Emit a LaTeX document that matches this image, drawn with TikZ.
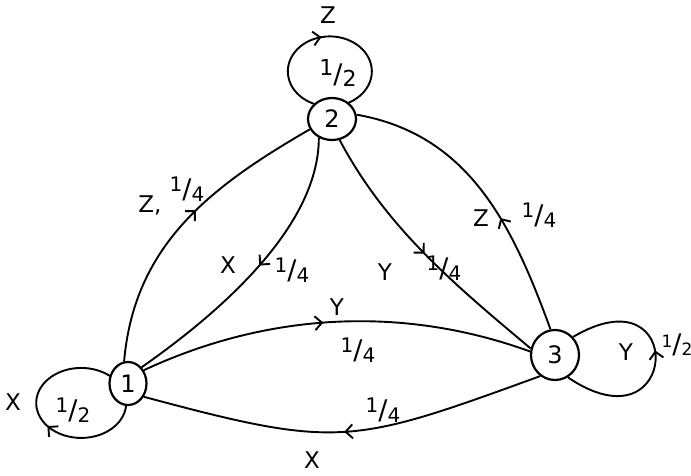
\documentclass[tikz,border=0pt]{standalone}
\usepackage{fontspec}
\setmainfont{DejaVu Sans}
\usetikzlibrary{arrows.meta,decorations.markings,shapes.geometric,backgrounds}
\newcommand{\myfr}[2]{\raisebox{0.5ex}{#1}\raisebox{-0.15ex}{\fontsize{27}{27}\selectfont/}\raisebox{-0.4ex}{#2}}
\begin{document}
\begin{tikzpicture}[x=1pt,y=1pt,
  every node/.style={font=\fontsize{23}{25}\selectfont},
  state/.style={ellipse, draw, line width=2.2pt, fill=white, inner sep=0pt, font=\fontsize{24}{26}\selectfont},
  conn/.style={line width=1.9pt},
  frac/.style={font=\fontsize{20}{22}\selectfont, inner sep=0pt},
  sym/.style={inner sep=1pt},
  midarrow/.style={postaction={decorate,decoration={markings,mark=at position #1 with {\arrow{Straight Barb[length=7pt,width=14pt,line width=1.9pt]}}}}}
]
\useasboundingbox (0,0) rectangle (691,475);
\node[state, minimum width=48pt, minimum height=42pt] (n2) at (332,356) {2};
\node[state, minimum width=37pt, minimum height=43pt] (n1) at (128,91.5) {1};
\node[state, minimum width=48pt, minimum height=50pt] (n3) at (555,120) {3};

\begin{scope}[on background layer]
% self loops
\draw[conn, midarrow=0.46] (n2.140) arc[start angle=247.6, end angle=-67.6, x radius=42, y radius=35];
\draw[conn, midarrow=0.44] (n1.265) arc[start angle=-5, end angle=-314, x radius=45, y radius=35];
\draw[conn, midarrow=0.55] (n3.-60) .. controls +(112,-76) and +(115,68) .. (n3.45);
% edges between states
\draw[conn, midarrow=0.55] (n1.100) to[out=85,in=210] (n2.205);
\draw[conn, midarrow=0.48] (n2.-125) to[out=-90,in=35,looseness=0.8] (n1.50);
\draw[conn, midarrow=0.5] (n2.-70) to[out=-62,in=140,looseness=0.9] (n3.165);
\draw[conn, midarrow=0.4] (n3.100) to[out=110,in=-10] (n2.10);
\draw[conn, midarrow=0.47] (n1.40) to[out=25,in=160,looseness=0.9] (n3.172);
\draw[conn, midarrow=0.5] (n3.235) to[out=200,in=-15,looseness=1.3] (n1.-40);
\end{scope}

% loop labels
\node[sym] (l2s) at (328,460) {Z};
\node[frac, font=\fontsize{22}{24}\selectfont] (l2p) at (338,402) {\myfr{1}{2}};
\node[sym] (l1s) at (13,73) {X};
\node[frac] (l1p) at (73,65) {\myfr{1}{2}};
\node[sym] (l3s) at (626,123) {Y};
\node[frac, font=\fontsize{17}{19}\selectfont] (l3p) at (677,130) {\myfr{1}{2}};
% edge labels
\node[sym] (las) at (150,270) {Z,};
\node[frac] (lap) at (187,286) {\myfr{1}{4}};
\node[sym] (lbs) at (228,210) {X};
\node[frac] (lbp) at (292,205) {\myfr{1}{4}};
\node[sym] (lcs) at (385,203) {Y};
\node[frac] (lcp) at (444,207) {\myfr{1}{4}};
\node[sym] (lds) at (481,257) {Z};
\node[frac] (ldp) at (539,260) {\myfr{1}{4}};
\node[sym] (les) at (337,168) {Y};
\node[frac] (lep) at (358,125) {\myfr{1}{4}};
\node[frac] (lfp) at (383,65) {\myfr{1}{4}};
\node[sym] (lfs) at (312,15) {X};
\end{tikzpicture}
\end{document}
